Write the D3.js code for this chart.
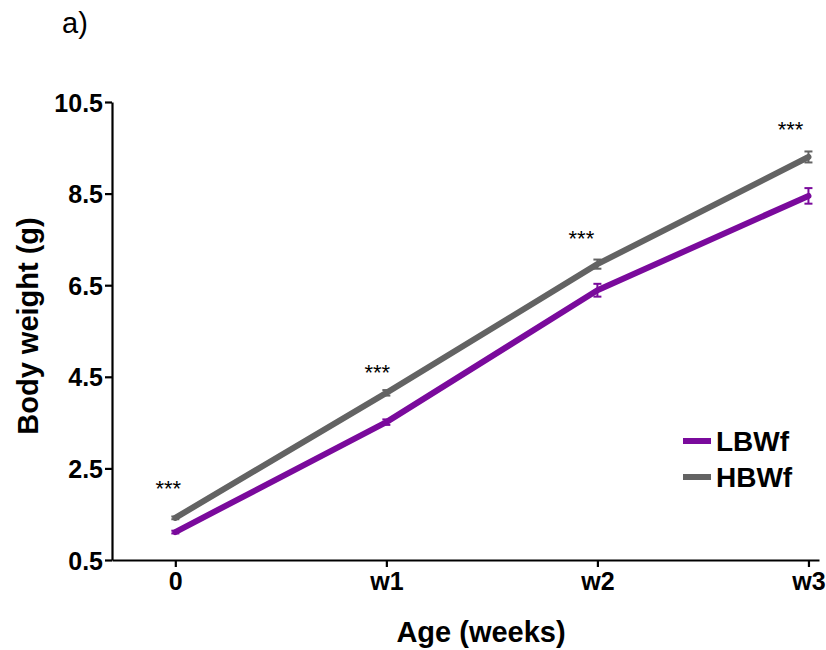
<!DOCTYPE html>
<html><head><meta charset="utf-8">
<script src="https://cdn.jsdelivr.net/npm/d3@7"></script>
<style>body{margin:0;background:#fff}svg{display:block}text{font-family:"Liberation Sans",Arial,sans-serif}</style>
</head><body>
<svg id="c" width="826" height="650"></svg>
<script>
const ages = ["0","w1","w2","w3"];
const lbwf = [1.11, 3.51, 6.39, 8.45];
const lbwfErr = [0.03, 0.06, 0.14, 0.17];
const hbwf = [1.42, 4.15, 6.96, 9.30];
const hbwfErr = [0.03, 0.06, 0.10, 0.12];
const sigX = [-0.033, -0.043, -0.076, -0.085];
const sigY = [2.16, 4.69, 7.62, 10.0];
const sigLabels = ["***","***","***","***"];
const yTicks = [0.5, 2.5, 4.5, 6.5, 8.5, 10.5];
const seriesNames = ["LBWf","HBWf"];
const colors = ["#7a0a9c","#636363"];

const svg = d3.select("#c");
const x = d3.scaleLinear().domain([-0.3, 3.05]).range([112, 819]);
const y = d3.scaleLinear().domain([0.5, 10.5]).range([560, 102]);

const series = [
  {name: seriesNames[0], vals: lbwf, err: lbwfErr, color: colors[0]},
  {name: seriesNames[1], vals: hbwf, err: hbwfErr, color: colors[1]}
];

// axes
const yAxis = svg.append("g").attr("transform","translate(112,0)")
  .call(d3.axisLeft(y).tickValues(yTicks).tickFormat(d3.format(".1f")).tickSize(7).tickSizeOuter(0));
const xAxis = svg.append("g").attr("transform","translate(0,560)")
  .call(d3.axisBottom(x).tickValues([0,1,2,3]).tickFormat((d,i)=>ages[i]).tickSize(7).tickSizeOuter(0));
[yAxis,xAxis].forEach(a=>{
  a.select(".domain").attr("stroke","#000").attr("stroke-width",2.2);
  a.selectAll(".tick line").attr("stroke","#000").attr("stroke-width",2.2);
  a.selectAll(".tick text").attr("font-size",25).attr("font-weight","bold").attr("fill","#000")
   .style("font-family","'Liberation Sans',Arial,sans-serif");
});
yAxis.selectAll(".tick text").attr("x",-9).attr("dy","0.36em");
xAxis.selectAll(".tick text").attr("y",12).attr("dy","0.71em");

// lines
const line = d3.line().x((d,i)=>x(i)).y(d=>y(d));
series.forEach(s=>{
  svg.append("path").datum(s.vals).attr("d",line).attr("fill","none")
    .attr("stroke",s.color).attr("stroke-width",6).attr("stroke-linejoin","round").attr("stroke-linecap","round");
  const g = svg.append("g");
  s.vals.forEach((v,i)=>{
    const e = s.err[i];
    g.append("line").attr("x1",x(i)).attr("x2",x(i)).attr("y1",y(v-e)).attr("y2",y(v+e)).attr("stroke",s.color).attr("stroke-width",2);
    [v-e,v+e].forEach(t=>g.append("line").attr("x1",x(i)-4).attr("x2",x(i)+4).attr("y1",y(t)).attr("y2",y(t)).attr("stroke",s.color).attr("stroke-width",2));
  });
});

// significance
svg.append("g").selectAll("text").data(sigY).join("text")
  .attr("x",(d,i)=>x(i+sigX[i])).attr("y",d=>y(d)+12).attr("text-anchor","middle")
  .attr("font-size",22).attr("fill","#000").text((d,i)=>sigLabels[i]);

// legend
series.forEach((s,i)=>{
  const ly = 441 + i*36;
  svg.append("line").attr("x1",683).attr("x2",711).attr("y1",ly).attr("y2",ly).attr("stroke",s.color).attr("stroke-width",6);
  svg.append("text").attr("x",716).attr("y",ly+10).attr("font-size",28).attr("font-weight","bold").attr("fill","#000").text(s.name);
});

// titles
svg.append("text").attr("x",481).attr("y",642).attr("text-anchor","middle").attr("font-size",29).attr("font-weight","bold").text("Age (weeks)");
svg.append("text").attr("transform","translate(38,326) rotate(-90)").attr("text-anchor","middle").attr("font-size",29).attr("font-weight","bold").text("Body weight (g)");
svg.append("text").attr("x",62).attr("y",33).attr("font-size",29).text("a)");
</script>
</body></html>
